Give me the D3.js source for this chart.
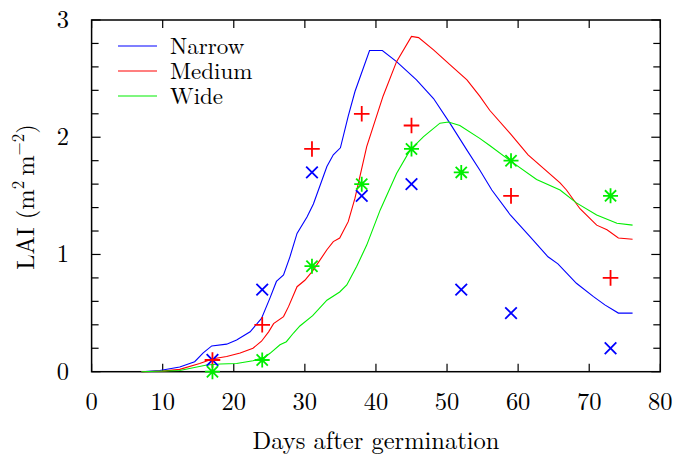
<!DOCTYPE html>
<html><head><meta charset="utf-8">
<script src="https://cdn.jsdelivr.net/npm/d3@7"></script>
<style>html,body{margin:0;padding:0;background:#fff;}svg{display:block;}</style>
</head><body>
<script>
// ---- data ----
const seriesNames = ["Narrow", "Medium", "Wide"];
const seriesColors = ["#0000ff", "#ff0000", "#00ee00"];
const xTicks = [0, 10, 20, 30, 40, 50, 60, 70, 80];
const yTicks = [0, 1, 2, 3];

const narrowDays = [7, 9.6, 12.4, 14.5, 15.7, 16.9, 19, 20.4, 22.3, 23.9, 25.1, 26, 27, 27.9, 28.9, 30.3, 31.2, 33.1, 34, 35, 36.1, 37.05, 39.1, 40.9, 42.9, 45.7, 48.1, 50.4, 52.8, 54.6, 56.3, 58.9, 61.7, 64.2, 65.6, 68.2, 70.6, 72.2, 74.1, 76.1];
const narrowLAI  = [0, 0.01, 0.04, 0.085, 0.16, 0.22, 0.235, 0.27, 0.34, 0.455, 0.63, 0.77, 0.825, 0.98, 1.18, 1.32, 1.43, 1.75, 1.85, 1.91, 2.18, 2.39, 2.74, 2.74, 2.645, 2.49, 2.33, 2.12, 1.89, 1.72, 1.55, 1.337, 1.15, 0.98, 0.92, 0.754, 0.64, 0.57, 0.50, 0.50];

const mediumDays = [7, 10, 12.4, 15.2, 17.1, 19, 20.9, 22.7, 23.9, 24.9, 25.6, 27, 27.7, 28.9, 30, 31.1, 33.1, 34, 34.9, 36.1, 37.05, 38.7, 41, 42.9, 45, 46, 48.1, 50.4, 52.8, 54.6, 56, 58.9, 61.4, 65.9, 66.8, 68.7, 71.05, 72.5, 74.1, 76.1];
const mediumLAI  = [0, 0.005, 0.02, 0.07, 0.11, 0.13, 0.16, 0.2, 0.26, 0.34, 0.41, 0.47, 0.555, 0.725, 0.78, 0.86, 1.04, 1.11, 1.14, 1.28, 1.48, 1.92, 2.35, 2.645, 2.86, 2.85, 2.745, 2.62, 2.49, 2.35, 2.23, 2.03, 1.85, 1.61, 1.55, 1.39, 1.25, 1.21, 1.14, 1.13];

const wideDays = [7, 12.4, 16.2, 18.1, 20.4, 22.7, 24.2, 25.1, 26.5, 27.4, 28.4, 29.3, 31.1, 33.1, 34.9, 35.9, 37.3, 38.7, 40.6, 42.9, 44.8, 46.7, 49, 50.2, 51.8, 54.6, 56, 59.1, 62.6, 65.9, 68.2, 71.05, 73.9, 76.1];
const wideLAI  = [0, 0.01, 0.057, 0.066, 0.07, 0.094, 0.12, 0.157, 0.23, 0.256, 0.33, 0.39, 0.478, 0.61, 0.68, 0.74, 0.9, 1.08, 1.38, 1.69, 1.89, 2.005, 2.12, 2.13, 2.10, 1.99, 1.93, 1.79, 1.64, 1.55, 1.44, 1.337, 1.266, 1.25];

const obsNarrowDays = [17, 24, 31, 38, 45, 52, 59, 73];
const obsNarrowLAI  = [0.1, 0.7, 1.7, 1.5, 1.6, 0.7, 0.5, 0.2];
const obsMediumDays = [17, 24, 31, 38, 45, 59, 73];
const obsMediumLAI  = [0.1, 0.4, 1.9, 2.2, 2.1, 1.5, 0.8];
const obsWideDays = [17, 24, 31, 38, 45, 52, 59, 73];
const obsWideLAI  = [0.0, 0.1, 0.9, 1.6, 1.9, 1.7, 1.8, 1.5];

// ---- layout ----
const W = 680, H = 457;
const m = {left: 91.6, right: 680 - 660.3, top: 20, bottom: 457 - 371.7};
const FONT = "'Latin Modern Roman', 'Liberation Serif', serif";
const FS = 24.5;

const svg = d3.select("body").append("svg").attr("width", W).attr("height", H);
const x = d3.scaleLinear().domain([0, 80]).range([m.left, W - m.right]);
const y = d3.scaleLinear().domain([0, 3]).range([H - m.bottom, m.top]);

function txt(sel, size) {
  return sel.append("text").style("font-family", FONT).style("font-size", (size || FS) + "px").attr("fill", "#000");
}

const g = svg.append("g");
const minorY = d3.range(0, 3.0001, 0.2);

// ticks (inside, on all four sides)
const tickG = g.append("g").attr("stroke", "#000").attr("stroke-width", 1.2);
xTicks.forEach(t => {
  tickG.append("line").attr("x1", x(t)).attr("x2", x(t)).attr("y1", y(0)).attr("y2", y(0) - 8);
  tickG.append("line").attr("x1", x(t)).attr("x2", x(t)).attr("y1", y(3)).attr("y2", y(3) + 8);
});
minorY.forEach(t => {
  const major = Math.abs(t - Math.round(t)) < 1e-6;
  const len = major ? 9 : 7;
  tickG.append("line").attr("x1", x(0)).attr("x2", x(0) + len).attr("y1", y(t)).attr("y2", y(t));
  tickG.append("line").attr("x1", x(80)).attr("x2", x(80) - len).attr("y1", y(t)).attr("y2", y(t));
});

// frame
g.append("rect").attr("x", x(0)).attr("y", y(3)).attr("width", x(80) - x(0)).attr("height", y(0) - y(3))
  .attr("fill", "none").attr("stroke", "#000").attr("stroke-width", 1.5);

// tick labels
xTicks.forEach(t => {
  txt(svg).attr("x", x(t)).attr("y", 410).attr("text-anchor", "middle").text(t);
});
yTicks.forEach(t => {
  txt(svg).attr("x", 69).attr("y", y(t) + 8).attr("text-anchor", "end").text(t);
});

// axis titles
txt(svg).attr("x", x(40)).attr("y", 449).attr("text-anchor", "middle").text("Days after germination");

const yt = txt(svg).attr("transform", "translate(34,197) rotate(-90)").attr("text-anchor", "middle");
yt.append("tspan").text("LAI (m");
yt.append("tspan").style("font-size", "17px").attr("dy", -10).text("2");
yt.append("tspan").attr("dy", 10).text("\u2009m");
yt.append("tspan").style("font-size", "17px").attr("dy", -10).text("\u22122");
yt.append("tspan").attr("dy", 10).text(")");

// curves
const line = d3.line().x(d => x(d[0])).y(d => y(d[1]));
const curves = [
  d3.zip(narrowDays, narrowLAI),
  d3.zip(mediumDays, mediumLAI),
  d3.zip(wideDays, wideLAI)
];
curves.forEach((c, i) => {
  g.append("path").datum(c).attr("d", line).attr("fill", "none")
    .attr("stroke", seriesColors[i]).attr("stroke-width", 1.1);
});

// markers
function crossX(cx, cy, r) {
  return "M" + (cx - r) + "," + (cy - r) + "L" + (cx + r) + "," + (cy + r) + "M" + (cx - r) + "," + (cy + r) + "L" + (cx + r) + "," + (cy - r);
}
function plus(cx, cy, r) {
  return "M" + (cx - r) + "," + cy + "L" + (cx + r) + "," + cy + "M" + cx + "," + (cy - r) + "L" + cx + "," + (cy + r);
}
const mk = g.append("g").attr("fill", "none").attr("stroke-width", 1.8);
d3.zip(obsNarrowDays, obsNarrowLAI).forEach(d => {
  mk.append("path").attr("d", crossX(x(d[0]), y(d[1]), 5.8)).attr("stroke", seriesColors[0]);
});
d3.zip(obsMediumDays, obsMediumLAI).forEach(d => {
  mk.append("path").attr("d", plus(x(d[0]), y(d[1]), 7.8)).attr("stroke", seriesColors[1]);
});
d3.zip(obsWideDays, obsWideLAI).forEach(d => {
  mk.append("path").attr("d", plus(x(d[0]), y(d[1]), 7.5) + crossX(x(d[0]), y(d[1]), 5.6)).attr("stroke", seriesColors[2]);
});

// legend
seriesNames.forEach((n, i) => {
  const ly = 46 + i * 25;
  svg.append("line").attr("x1", 118).attr("x2", 157).attr("y1", ly).attr("y2", ly)
    .attr("stroke", seriesColors[i]).attr("stroke-width", 1.1);
  txt(svg, 23).attr("x", 170).attr("y", ly + 7.5).text(n);
});
</script>
</body></html>
